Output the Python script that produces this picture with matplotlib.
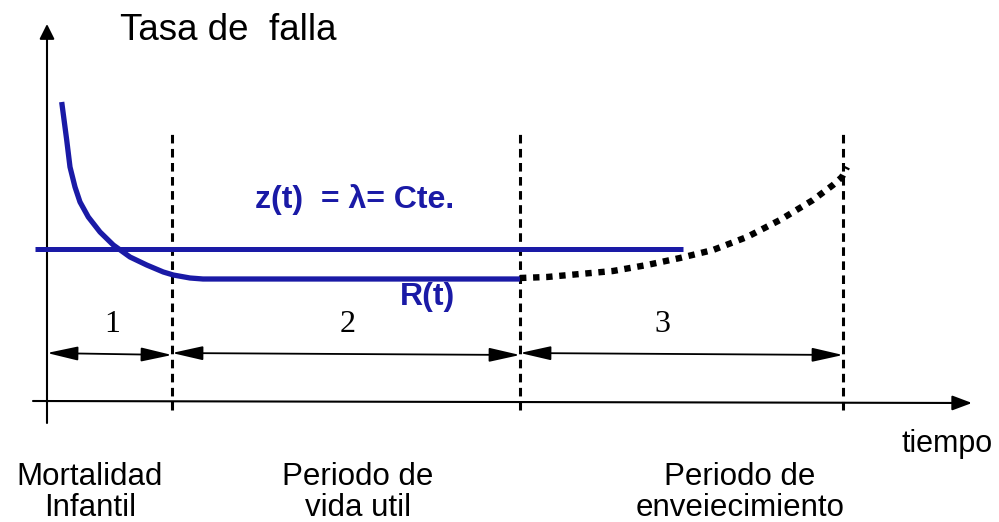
import matplotlib
matplotlib.use("Agg")
import matplotlib.pyplot as plt
from matplotlib.patches import FancyArrowPatch

# time axis origin at the vertical axis, rate origin at the horizontal axis
BLUE = "#1a1aa6"

# phase boundaries (time)
boundaries = [125, 473, 796]
phase_labels = ["1", "2", "3"]
phase_names = ["Mortalidad\nInfantil", "Periodo de\nvida util", "Periodo de\nenveiecimiento"]

# observed failure rate (infant mortality + useful life)
t_obs = [14.7, 19.7, 23, 28, 33, 41.3, 53, 66.3, 83, 99.7, 116.3, 126.3, 143, 156, 473]
r_obs = [300, 262, 235, 215, 200, 185, 170, 157, 145, 137, 130, 127, 124, 123, 123]

# constant rate line
t_const = [-12, 636]
r_const = [153, 153]

# wear-out (aging) period
t_age = [473, 500, 533, 566, 600, 633, 666, 700, 733, 766, 786, 795, 800]
r_age = [124, 125, 128, 131, 137, 144, 152, 165, 182, 202, 217, 225, 235]

fig = plt.figure(figsize=(9.99, 5.22), dpi=100)
ax = fig.add_axes([0, 0, 1, 1])
ax.set_xlim(-47, 952)
ax.set_ylim(-120, 402)
ax.axis("off")

# axes with arrows
ax.add_patch(FancyArrowPatch((0, -21), (0, 378), arrowstyle="-|>,head_length=9,head_width=4.5",
                             mutation_scale=1, color="black", lw=1.5, shrinkA=0, shrinkB=0))
ax.add_patch(FancyArrowPatch((-14, 1), (925, -1), arrowstyle="-|>,head_length=12,head_width=4.5",
                             mutation_scale=1, color="black", lw=1.5, shrinkA=0, shrinkB=0))

# dashed phase boundaries
for b in boundaries:
    ax.plot([b, b], [-8, 270], color="black", lw=2.2, ls=(0, (2.8, 1.8)))

# curves
ax.plot(t_obs, r_obs, color=BLUE, lw=3.8, solid_capstyle="butt", solid_joinstyle="round")
ax.plot(t_const, r_const, color=BLUE, lw=3.6, solid_capstyle="butt")
ax.plot(t_age, r_age, color="black", lw=4.6, ls=(0, (1, 1.05)), dash_capstyle="butt")

# double arrows for the phases
starts = [0] + boundaries[:-1]
for s, e in zip(starts, boundaries):
    ax.add_patch(FancyArrowPatch((s, 49), (e, 47), arrowstyle="<|-|>,head_length=19,head_width=4.3",
                                 mutation_scale=1, color="black", lw=1.3, shrinkA=0, shrinkB=0))

num_x = [65, 301, 615]
for x, lab in zip(num_x, phase_labels):
    ax.text(x, 78, lab, fontsize=23, family="Liberation Serif", ha="center", va="center")

name_x = [90, 358, 740]
for x, lab in zip(name_x, phase_names):
    ax.text(x - 47, -60, lab, fontsize=22.5, family="Liberation Sans", ha="center", va="top",
            linespacing=1.05)

ax.text(855, -42, "tiempo", fontsize=22, family="Liberation Sans", ha="left", va="center")
ax.text(73, 372, "Tasa de  falla", fontsize=26.5, family="Liberation Sans", ha="left", va="center")
ax.text(208, 202, "z(t)  = \u03bb= Cte.", fontsize=23, family="Liberation Sans", weight="bold",
        color=BLUE, ha="left", va="center")
ax.text(381, 105, "R(t)", fontsize=23, family="Liberation Sans", weight="bold",
        color=BLUE, ha="center", va="center")

fig.savefig("out.png", dpi=100)
